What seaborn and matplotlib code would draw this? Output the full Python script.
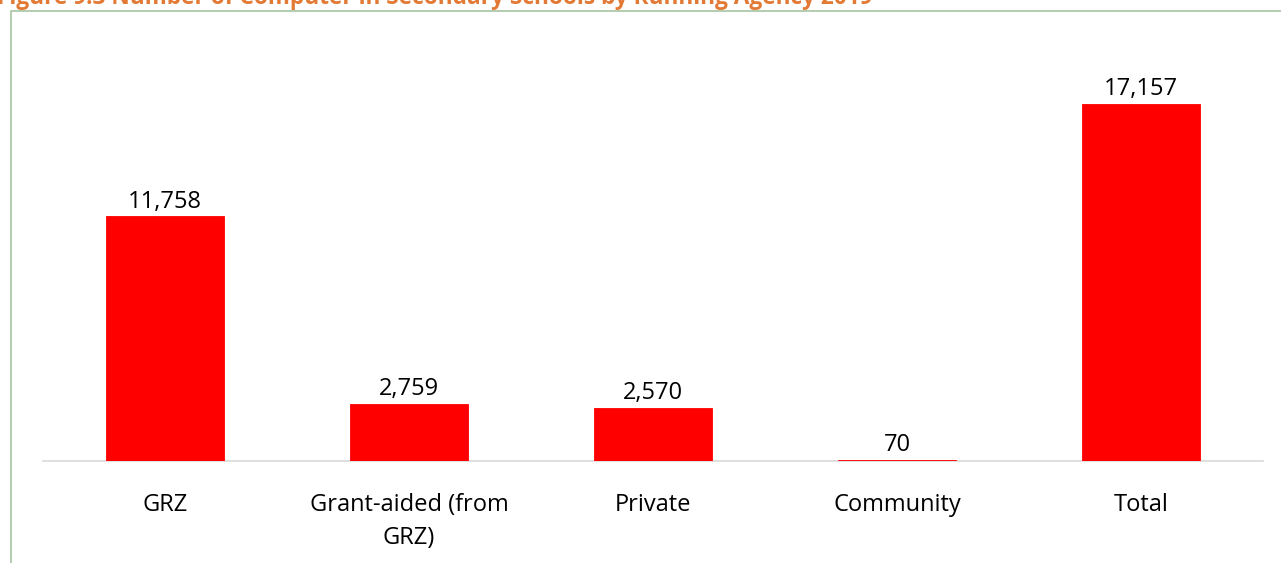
import matplotlib
matplotlib.use("Agg")
import matplotlib.pyplot as plt
import seaborn as sns
import pandas as pd
from matplotlib.patches import Rectangle

categories = ["GRZ", "Grant-aided (from\nGRZ)", "Private", "Community", "Total"]
values = [11758, 2759, 2570, 70, 17157]
title = "Figure 9.3 Number of Computer in Secondary Schools by Running Agency 2019"

sns.set_theme(style="white")
plt.rcParams['font.family'] = ['Open Sans', 'DejaVu Sans']

W, H = 1281, 563
fig = plt.figure(figsize=(W / 100, H / 100), dpi=100)
ax = fig.add_axes([43 / W, 1 - 461 / H, 1220 / W, 416 / H])

df = pd.DataFrame({"cat": categories, "val": values})
sns.barplot(data=df, x="cat", y="val", color="#FF0000", saturation=1, width=0.484, ax=ax, zorder=3,
            edgecolor="#FF0000", linewidth=0.6)

ax.set_xlim(-0.5, 4.5)
ax.set_ylim(0, 20000)
for s in ["top", "right", "left"]:
    ax.spines[s].set_visible(False)
ax.spines["bottom"].set_color("#D9D9D9")
ax.spines["bottom"].set_linewidth(1.2)
ax.spines["bottom"].set_zorder(1)
ax.set_yticks([])
ax.set_xlabel("")
ax.set_ylabel("")
ax.tick_params(axis="x", length=0, pad=23, labelsize=17, labelcolor="#000000")
for lbl in ax.get_xticklabels():
    lbl.set_linespacing(1.52)
    lbl.set_verticalalignment("top")

for c in ax.containers:
    ax.bar_label(c, labels=[f"{v:,}" for v in values], padding=2, fontsize=17, color="#000000")

# frame
fig.patches.append(Rectangle((10.5 / W, -0.1), 1.2, 1 - 11.5 / H + 0.1, transform=fig.transFigure,
                             fill=False, edgecolor="#A9C4A3", linewidth=1.2))
fig.text(-0.002, 1 - 4.5 / H, title, ha="left", va="baseline", fontsize=16.3, fontweight="bold", color="#E27A35")

fig.savefig("out.png", dpi=100)
